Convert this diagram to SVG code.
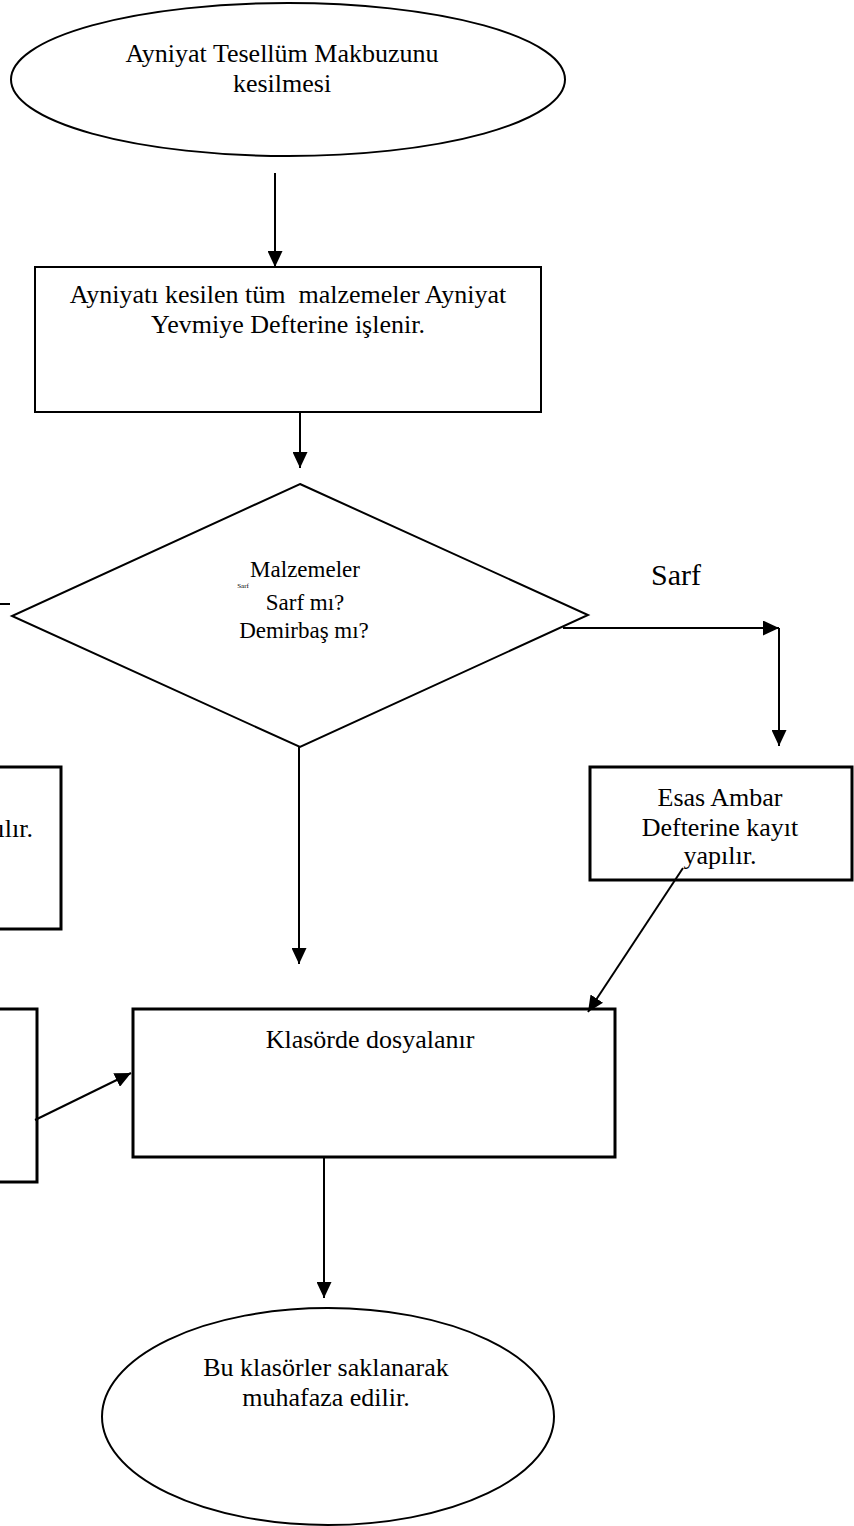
<svg xmlns="http://www.w3.org/2000/svg" width="854" height="1526" viewBox="0 0 854 1526">
<style>
text{font-family:"Liberation Serif","Times New Roman",serif;fill:#000;font-size:26px;text-anchor:middle}
text.d{font-size:23px}
text.tiny{font-size:7px}
text.lbl{font-size:30px}
text.end{text-anchor:end}
.shape{fill:#fff;stroke:#000;stroke-width:2}
.box{fill:#fff;stroke:#000;stroke-width:3}
.c{fill:none;stroke:#000;stroke-width:2}
</style>
<defs>
<marker id="ah" markerUnits="userSpaceOnUse" markerWidth="16" markerHeight="15" refX="16" refY="7.5" orient="auto">
<path d="M0,0 L16,7.5 L0,15 z" fill="#000"/>
</marker>
</defs>
<rect width="854" height="1526" fill="#fff"/>
<g id="start">
<ellipse class="shape" cx="288" cy="79.5" rx="277" ry="76.5"/>
<text x="282" y="62">Ayniyat Tesellüm Makbuzunu</text>
<text x="282" y="92">kesilmesi</text>
</g>
<g id="yevmiye">
<rect class="shape" x="35" y="267" width="506" height="145" stroke="#222"/>
<text x="288" y="303" xml:space="preserve">Ayniyatı kesilen tüm  malzemeler Ayniyat</text>
<text x="288" y="333">Yevmiye Defterine işlenir.</text>
</g>
<g id="decision">
<polygon class="shape" points="300,484 588,615 300,747 12,616"/>
<text class="d" x="305" y="577">Malzemeler</text>
<text class="tiny" x="243" y="588">Sarf</text>
<text class="d" x="305" y="610">Sarf mı?</text>
<text class="d" x="304" y="638">Demirbaş mı?</text>
</g>
<g id="label-sarf">
<text class="lbl" x="676" y="585">Sarf</text>
</g>
<g id="demirbas-box">
<rect class="box" x="-100" y="767" width="161" height="162"/>
<text class="end" x="33" y="837">ılır.</text>
</g>
<g id="esas-ambar">
<rect class="box" x="590" y="767" width="262" height="113"/>
<text x="720" y="806">Esas Ambar</text>
<text x="720" y="836">Defterine kayıt</text>
<text x="720" y="864">yapılır.</text>
</g>
<g id="left-box">
<rect class="box" x="-100" y="1009" width="137" height="173"/>
</g>
<g id="klasor">
<rect class="box" x="133" y="1009" width="482" height="148"/>
<text x="370" y="1048">Klasörde dosyalanır</text>
</g>
<g id="end">
<ellipse class="shape" cx="328" cy="1416.5" rx="226" ry="108.5"/>
<text x="326" y="1376">Bu klasörler saklanarak</text>
<text x="326" y="1406">muhafaza edilir.</text>
</g>
<g id="connectors">
<line class="c" x1="275" y1="173" x2="275" y2="267" stroke-width="3" marker-end="url(#ah)"/>
<line class="c" x1="300" y1="412" x2="300" y2="468" stroke-width="2.5" marker-end="url(#ah)"/>
<line class="c" x1="563" y1="628" x2="779" y2="628" marker-end="url(#ah)"/>
<line class="c" x1="779" y1="628" x2="779" y2="746" marker-end="url(#ah)"/>
<line class="c" x1="299" y1="747" x2="299" y2="964" stroke-width="1.5" marker-end="url(#ah)"/>
<line class="c" x1="683" y1="868" x2="588" y2="1012" stroke-width="3" marker-end="url(#ah)"/>
<line class="c" x1="35" y1="1120" x2="131" y2="1073" stroke-width="2.5" marker-end="url(#ah)"/>
<line class="c" x1="324" y1="1157" x2="324" y2="1298" stroke-width="1.5" marker-end="url(#ah)"/>
<line class="c" x1="0" y1="604" x2="10" y2="604"/>
</g>
</svg>
